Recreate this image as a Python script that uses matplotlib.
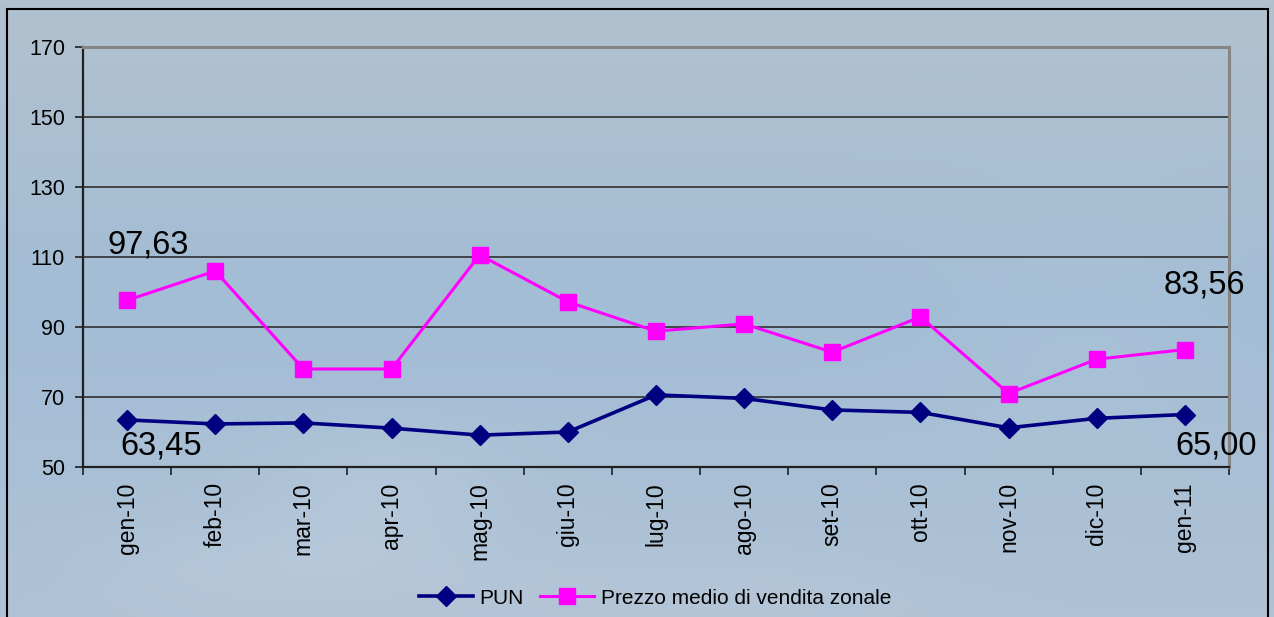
import numpy as np
import matplotlib
matplotlib.use("Agg")
import matplotlib.pyplot as plt
from matplotlib.patches import Rectangle
from matplotlib.ticker import FixedLocator, NullFormatter

# ---- data ----
categories = ["gen-10", "feb-10", "mar-10", "apr-10", "mag-10", "giu-10", "lug-10",
              "ago-10", "set-10", "ott-10", "nov-10", "dic-10", "gen-11"]
pun = [63.45, 62.3, 62.6, 61.1, 59.1, 60.0, 70.6, 69.6, 66.3, 65.6, 61.2, 63.9, 65.00]
prezzo = [97.63, 106.0, 78.0, 78.0, 110.6, 97.2, 88.8, 90.9, 82.8, 92.9, 71.0, 80.8, 83.56]
yticks = [50, 70, 90, 110, 130, 150, 170]
series_names = ["PUN", "Prezzo medio di vendita zonale"]
label_texts = ["97,63", "63,45", "83,56", "65,00"]

plt.rcParams['font.family'] = ['Liberation Sans', 'DejaVu Sans']

W, H = 1274, 617
fig = plt.figure(figsize=(W / 100, H / 100), dpi=100)

# ---- sky-like background ----
bg = fig.add_axes([0, 0, 1, 1], zorder=-10)
bg.set_axis_off()
yy, xx = np.mgrid[0:1:200j, 0:1:400j]
top = np.array([178, 193, 207]) / 255
mid = np.array([162, 189, 213]) / 255
bot = np.array([176, 194, 213]) / 255
t = yy[..., None]
img = np.where(t < 0.5, top + (mid - top) * (t / 0.5), mid + (bot - mid) * ((t - 0.5) / 0.5))
# soft cloud highlights
for cx, cy, sx, sy, a in [(0.30, 0.80, 0.10, 0.10, 0.10), (0.22, 0.92, 0.15, 0.08, 0.08),
                          (0.55, 0.95, 0.20, 0.07, 0.05), (0.85, 0.55, 0.10, 0.20, 0.04)]:
    g = a * np.exp(-(((xx - cx) / sx) ** 2 + ((yy - cy) / sy) ** 2))
    img = img + (1 - img) * g[..., None]
bg.imshow(np.clip(img, 0, 1), aspect='auto', extent=[0, 1, 0, 1], origin='upper')
bg.set_xlim(0, 1)
bg.set_ylim(0, 1)

# outer frame
fig.patches.append(Rectangle((7 / W, -0.05), (1268 - 7) / W, 1 - 9 / H + 0.05,
                             transform=fig.transFigure, fill=False,
                             edgecolor='black', linewidth=1.5, zorder=-5))

# ---- main axes ----
ax = fig.add_axes([83 / W, 1 - 467 / H, (1229 - 83) / W, (467 - 47) / H])
ax.set_facecolor('none')
x = np.arange(len(categories))

ax.plot(x, pun, color='#000080', lw=2.6, marker='D', ms=10, mec='#000080',
        mfc='#000080', label=series_names[0], zorder=4)
ax.plot(x, prezzo, color='#FF00FF', lw=2.2, marker='s', ms=11, mec='#FF00FF',
        mfc='#FF00FF', label=series_names[1], zorder=4)

ax.set_xlim(-0.5, len(categories) - 0.5)
ax.set_ylim(50, 170)
ax.set_yticks(yticks)
ax.set_yticklabels([str(v) for v in yticks], fontsize=15.5)
for v in yticks[1:-1]:
    ax.axhline(v, color='#303030', lw=1.2, zorder=1)

ax.set_xticks(x)
ax.set_xticklabels(categories, rotation=90, fontsize=16.5, va='top', ha='center')
ax.tick_params(axis='x', which='major', length=0, pad=11)
ax.xaxis.set_minor_locator(FixedLocator(np.arange(-0.5, len(categories), 1.0)))
ax.xaxis.set_minor_formatter(NullFormatter())
ax.tick_params(axis='x', which='minor', length=6, width=1.2, color='#202020')
ax.tick_params(axis='y', length=6, width=1.2, color='#202020', pad=7)

for s in ['left', 'bottom']:
    ax.spines[s].set_color('#202020')
    ax.spines[s].set_linewidth(1.6)
for s in ['top', 'right']:
    ax.spines[s].set_color('#858585')
    ax.spines[s].set_linewidth(2.2)

# data labels
ax.text(0.24, 113.4, label_texts[0], fontsize=23.5, ha='center', va='center')
ax.text(0.39, 56.0, label_texts[1], fontsize=23.5, ha='center', va='center')
ax.text(12.22, 102.0, label_texts[2], fontsize=23.5, ha='center', va='center')
ax.text(12.35, 56.0, label_texts[3], fontsize=23.5, ha='center', va='center', clip_on=False)

fig.legend(loc='center', bbox_to_anchor=(655 / W, 1 - 598 / H), ncol=2, frameon=False,
           fontsize=15, handlelength=2.6, handletextpad=0.3, columnspacing=0.8)

fig.savefig('out.png', dpi=100)
